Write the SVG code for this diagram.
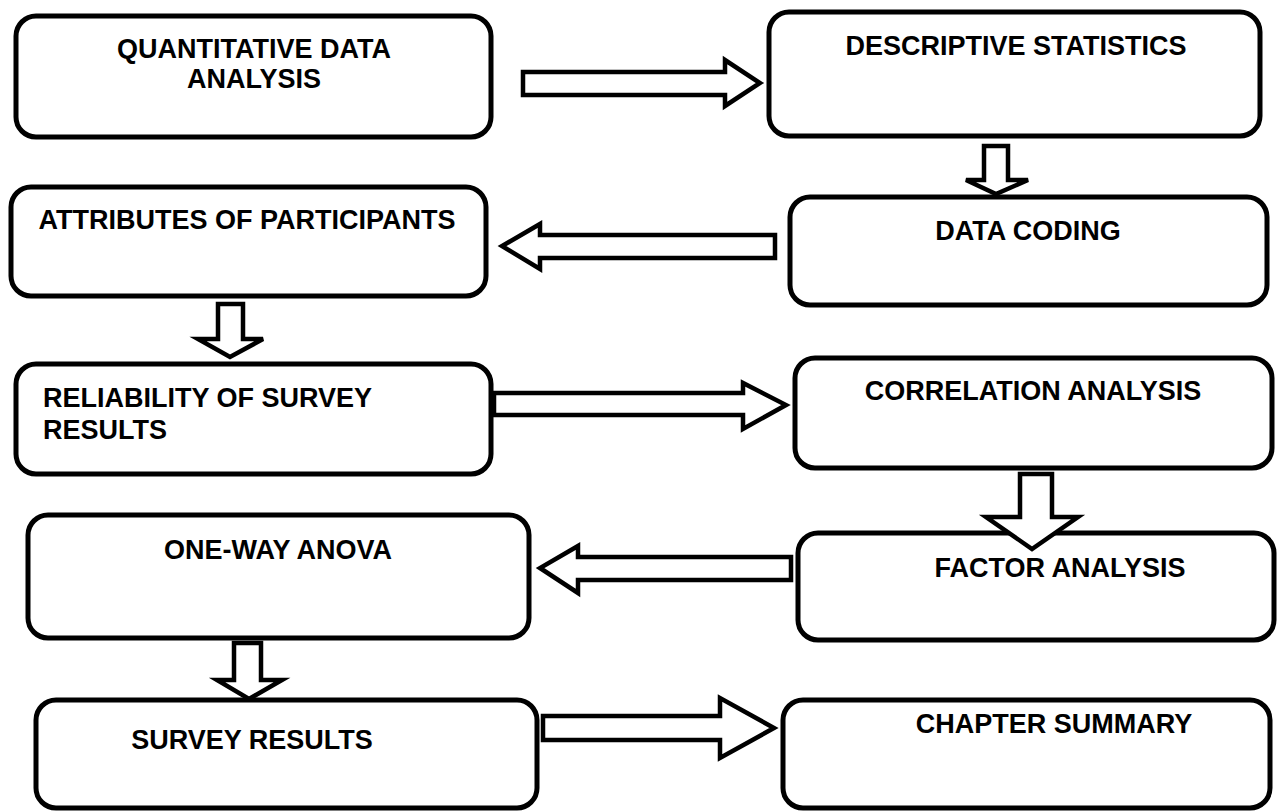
<svg xmlns="http://www.w3.org/2000/svg" width="1281" height="812" viewBox="0 0 1281 812">
  <style>
    .box { fill: #ffffff; stroke: #000000; stroke-width: 5; }
    .arrow { fill: #ffffff; stroke: #000000; stroke-width: 4.5; stroke-linejoin: miter; }
    .label { font-family: "Liberation Sans", Arial, sans-serif; font-weight: bold; font-size: 27px; fill: #000000; }
    .mid { text-anchor: middle; }
  </style>
  <rect width="1281" height="812" fill="#ffffff"/>

  <g id="quantitative-data-analysis">
    <rect class="box" x="16" y="16" width="475" height="121" rx="20"/>
    <text class="label mid" x="254" y="58">QUANTITATIVE DATA</text>
    <text class="label mid" x="254" y="88">ANALYSIS</text>
  </g>

  <g id="descriptive-statistics">
    <rect class="box" x="769" y="12" width="491" height="124" rx="20"/>
    <text class="label mid" x="1016" y="55">DESCRIPTIVE STATISTICS</text>
  </g>

  <g id="attributes-of-participants">
    <rect class="box" x="11" y="187" width="475" height="109" rx="20"/>
    <text class="label mid" x="247" y="229">ATTRIBUTES OF PARTICIPANTS</text>
  </g>

  <g id="data-coding">
    <rect class="box" x="790" y="197" width="477" height="108" rx="20"/>
    <text class="label mid" x="1028" y="240">DATA CODING</text>
  </g>

  <g id="reliability-of-survey-results">
    <rect class="box" x="16" y="364" width="475" height="110" rx="20"/>
    <text class="label" x="43" y="407">RELIABILITY OF SURVEY</text>
    <text class="label" x="43" y="439">RESULTS</text>
  </g>

  <g id="correlation-analysis">
    <rect class="box" x="795" y="358" width="477" height="110" rx="20"/>
    <text class="label mid" x="1033" y="400">CORRELATION ANALYSIS</text>
  </g>

  <g id="one-way-anova">
    <rect class="box" x="28" y="515" width="501" height="123" rx="20"/>
    <text class="label mid" x="278" y="559">ONE-WAY ANOVA</text>
  </g>

  <g id="factor-analysis">
    <rect class="box" x="798" y="533" width="476" height="107" rx="20"/>
    <text class="label mid" x="1060" y="577">FACTOR ANALYSIS</text>
  </g>

  <g id="survey-results">
    <rect class="box" x="36" y="700" width="501" height="108" rx="20"/>
    <text class="label mid" x="252" y="749">SURVEY RESULTS</text>
  </g>

  <g id="chapter-summary">
    <rect class="box" x="783" y="700" width="487" height="108" rx="20"/>
    <text class="label mid" x="1054" y="733">CHAPTER SUMMARY</text>
  </g>

  <!-- block arrows between steps, drawn over the boxes -->
  <g id="connectors">
    <path class="arrow" d="M523,72 H725 V60 L760,83 L725,106 V95 H523 Z"/>
    <path class="arrow" d="M984,146 H1008 V180 H1028 L996,194 L966,180 H984 Z"/>
    <path class="arrow" d="M775,235 H540 V224 L502,246 L540,269 V258 H775 Z"/>
    <path class="arrow" d="M218,304 H243 V339 H263 L230,357 L198,339 H218 Z"/>
    <path class="arrow" d="M494,393 H743 V383 L786,405 L743,429 V415 H494 Z"/>
    <path class="arrow" d="M1020,474 H1052 V517 H1078 L1032,549 L986,517 H1020 Z"/>
    <path class="arrow" d="M791,557 H578 V546 L540,568 L578,593 V580 H791 Z"/>
    <path class="arrow" d="M234,643 H261 V680 H282 L249,699 L217,680 H234 Z"/>
    <path class="arrow" d="M543,716 H720 V698 L774,728 L720,758 V740 H543 Z"/>
  </g>
</svg>
